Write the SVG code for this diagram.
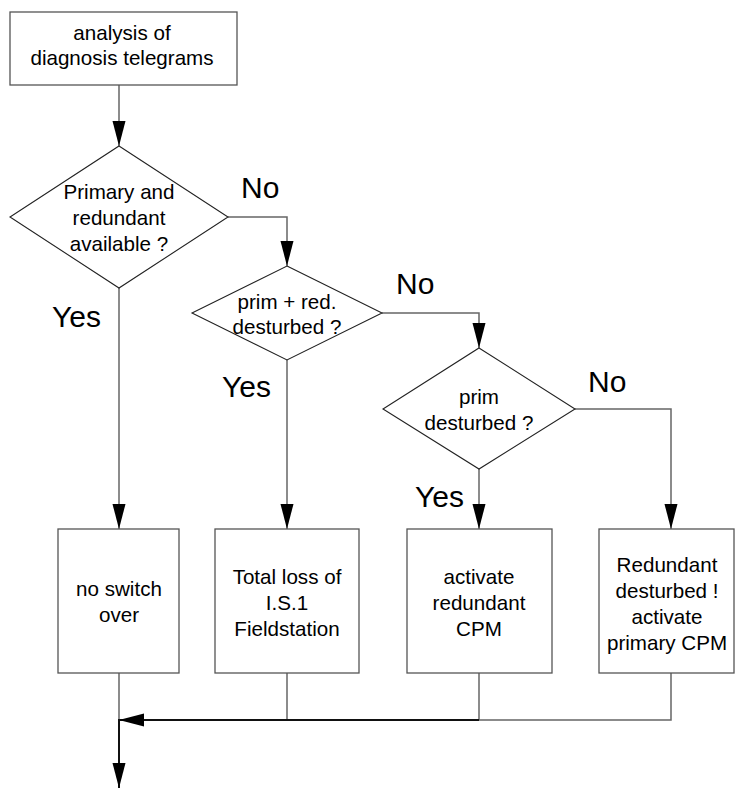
<svg xmlns="http://www.w3.org/2000/svg" width="736" height="789" viewBox="0 0 736 789">
  <style>
    .box { fill: #fff; stroke: #555; stroke-width: 1.3; }
    .dia { fill: #fff; stroke: #222; stroke-width: 1.1; }
    .t { font-family: "Liberation Sans", Arial, sans-serif; font-size: 20.6px; fill: #000; text-anchor: middle; }
    .lbl { font-family: "Liberation Sans", Arial, sans-serif; font-size: 30px; fill: #000; }
    .wire { fill: none; stroke: #666; stroke-width: 1.5; }
    .bus { fill: none; stroke: #111; stroke-width: 2; }
  </style>
  <defs>
    <marker id="arrow" markerUnits="userSpaceOnUse" markerWidth="26" markerHeight="14" refX="25" refY="6.5" orient="auto">
      <path d="M0,0 L25,6.5 L0,13 Z" fill="#000"/>
    </marker>
  </defs>

  <rect width="736" height="789" fill="#fff"/>

  <!-- connectors -->
  <g id="connectors">
    <path class="wire" d="M119,85 V146" marker-end="url(#arrow)"/>
    <path class="wire" d="M228,217 H287 V266" marker-end="url(#arrow)"/>
    <path class="wire" d="M119,288 V529" marker-end="url(#arrow)"/>
    <path class="wire" d="M382,313 H479 V348" marker-end="url(#arrow)"/>
    <path class="wire" d="M287,360 V529" marker-end="url(#arrow)"/>
    <path class="wire" d="M479,469 V529" marker-end="url(#arrow)"/>
    <path class="wire" d="M575,409 H671 V529" marker-end="url(#arrow)"/>
    <path class="wire" d="M119,673 V720"/>
    <path class="wire" d="M287,673 V720"/>
    <path class="wire" d="M479,673 V720"/>
    <path class="wire" d="M671,673 V720 H479"/>
    <path class="bus" d="M479,720 H119" marker-end="url(#arrow)"/>
    <path class="bus" d="M119,719 V788" marker-end="url(#arrow)"/>
  </g>

  <!-- branch labels -->
  <g id="labels">
    <text class="lbl" x="241" y="198">No</text>
    <text class="lbl" x="52" y="327">Yes</text>
    <text class="lbl" x="396" y="294">No</text>
    <text class="lbl" x="222" y="397">Yes</text>
    <text class="lbl" x="588" y="392">No</text>
    <text class="lbl" x="415" y="507">Yes</text>
  </g>

  <g id="start">
    <rect class="box" x="10" y="12" width="227" height="73"/>
    <text class="t" x="122" y="40">analysis of</text>
    <text class="t" x="122" y="65">diagnosis telegrams</text>
  </g>

  <g id="check-available">
    <polygon class="dia" points="119,146 228,217 119,288 10,217"/>
    <text class="t" x="119" y="199">Primary and</text>
    <text class="t" x="119" y="225">redundant</text>
    <text class="t" x="119" y="251">available ?</text>
  </g>

  <g id="check-both">
    <polygon class="dia" points="287,266 382,313 287,360 192,313"/>
    <text class="t" x="287" y="309">prim + red.</text>
    <text class="t" x="287" y="334">desturbed ?</text>
  </g>

  <g id="check-prim">
    <polygon class="dia" points="479,348 575,409 479,469 383,409"/>
    <text class="t" x="479" y="404">prim</text>
    <text class="t" x="479" y="430">desturbed ?</text>
  </g>

  <g id="no-switch">
    <rect class="box" x="58" y="529" width="121" height="144"/>
    <text class="t" x="119" y="596">no switch</text>
    <text class="t" x="119" y="622">over</text>
  </g>

  <g id="total-loss">
    <rect class="box" x="215" y="529" width="144" height="144"/>
    <text class="t" x="287" y="584">Total loss of</text>
    <text class="t" x="287" y="610">I.S.1</text>
    <text class="t" x="287" y="636">Fieldstation</text>
  </g>

  <g id="activate-redundant">
    <rect class="box" x="407" y="529" width="145" height="144"/>
    <text class="t" x="479" y="584">activate</text>
    <text class="t" x="479" y="610">redundant</text>
    <text class="t" x="479" y="636">CPM</text>
  </g>

  <g id="activate-primary">
    <rect class="box" x="599" y="529" width="135" height="144"/>
    <text class="t" x="667" y="572">Redundant</text>
    <text class="t" x="667" y="598">desturbed !</text>
    <text class="t" x="667" y="624">activate</text>
    <text class="t" x="667" y="650">primary CPM</text>
  </g>
</svg>
